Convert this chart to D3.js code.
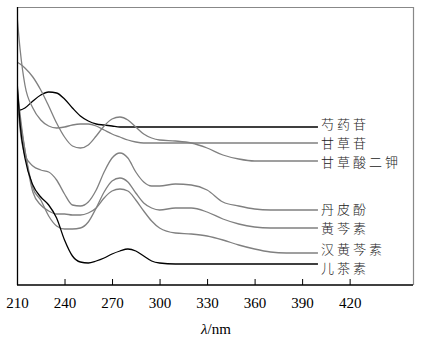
<!DOCTYPE html>
<html><head><meta charset="utf-8">
<script src="https://cdn.jsdelivr.net/npm/d3@7/dist/d3.min.js"></script>
<style>body{margin:0;background:#fff}svg{display:block}</style>
</head><body>
<svg id="c" width="435" height="341"></svg>
<script>
const wavelengths = [210,212,215,220,225,230,235,240,245,250,255,260,265,270,275,280,285,290,295,300,310,320,330,340,350,360,370,380,390,400];
const xTicks = [210,240,270,300,330,360,390,420];
const seriesNames = ["芍药苷","甘草苷","甘草酸二钾","丹皮酚","黄芩素","汉黄芩素","儿茶素"];
const seriesColors = ["#000","#808080","#808080","#808080","#808080","#808080","#000"];
const paeoniflorin = [1.78,1.75,1.77,1.84,1.90,1.93,1.92,1.86,1.77,1.69,1.64,1.61,1.60,1.59,1.58,1.58,1.58,1.58,1.58,1.58,1.58,1.58,1.58,1.58,1.58,1.58,1.58,1.58,1.58,1.58];
const liquiritin = [2.70,2.35,2.00,1.77,1.65,1.59,1.57,1.58,1.60,1.61,1.61,1.59,1.55,1.51,1.48,1.45,1.43,1.42,1.42,1.42,1.42,1.42,1.42,1.42,1.42,1.42,1.42,1.42,1.42,1.42];
const glycyrrhizinate = [2.23,2.21,2.17,2.08,1.95,1.79,1.62,1.48,1.39,1.37,1.40,1.49,1.59,1.66,1.68,1.65,1.58,1.51,1.47,1.45,1.44,1.42,1.37,1.30,1.26,1.24,1.24,1.24,1.24,1.24];
const paeonol = [1.90,1.55,1.30,1.19,1.15,1.13,1.05,0.91,0.80,0.79,0.83,0.95,1.13,1.27,1.32,1.27,1.13,1.03,0.99,0.99,1.01,1.00,0.95,0.83,0.79,0.76,0.75,0.75,0.75,0.75];
const baicalein = [1.95,1.65,1.35,0.97,0.85,0.69,0.59,0.56,0.56,0.57,0.63,0.77,0.93,1.04,1.07,1.03,0.92,0.82,0.77,0.75,0.77,0.77,0.73,0.66,0.61,0.58,0.57,0.57,0.57,0.57];
const wogonin = [2.00,1.70,1.35,0.93,0.80,0.74,0.71,0.71,0.70,0.70,0.72,0.77,0.87,0.94,0.96,0.94,0.85,0.74,0.64,0.57,0.52,0.51,0.49,0.45,0.40,0.36,0.33,0.32,0.32,0.32];
const catechin = [2.05,1.60,1.27,1.00,0.88,0.80,0.67,0.45,0.29,0.23,0.22,0.24,0.27,0.31,0.34,0.36,0.34,0.29,0.24,0.22,0.21,0.21,0.21,0.21,0.21,0.21,0.21,0.21,0.21,0.21];
const seriesValues = [paeoniflorin,liquiritin,glycyrrhizinate,paeonol,baicalein,wogonin,catechin];

const svg = d3.select("#c");
const L = 17, R = 413, T = 7, B = 285;
const x = d3.scaleLinear().domain([210,460]).range([L,R]);
const y = d3.scaleLinear().domain([0,2.78]).range([B,T]);

svg.append("defs").append("clipPath").attr("id","clip")
  .append("rect").attr("x",L).attr("y",T).attr("width",R-L).attr("height",B-T);

svg.append("line").attr("x1",L).attr("x2",R).attr("y1",T+0.5).attr("y2",T+0.5).attr("stroke","#888").attr("stroke-width",1.2);
svg.append("line").attr("x1",R+0.5).attr("x2",R+0.5).attr("y1",T).attr("y2",B).attr("stroke","#888").attr("stroke-width",1.2);

const line = d3.line().x((d,i)=>x(wavelengths[i])).y(d=>y(d)).curve(d3.curveMonotoneX);
const g = svg.append("g").attr("clip-path","url(#clip)");
seriesValues.forEach((vals,k)=>{
  g.append("path").attr("d",line(vals)).attr("fill","none")
   .attr("stroke",seriesColors[k]).attr("stroke-width",1.3);
});

// label placement: start at line end, spread apart to avoid overlaps
const gap = 19;
let labels = seriesValues.map((vals,k)=>({k, y: y(vals[vals.length-1]) + 1}));
labels.sort((a,b)=>a.y-b.y);
for (let it=0; it<60; it++) {
  for (let i=1;i<labels.length;i++){
    const d = labels[i].y - labels[i-1].y;
    if (d < gap) { const s=(gap-d)/2; labels[i].y += s; labels[i-1].y -= s; }
  }
}
labels.forEach(l=>{
  svg.append("text").attr("x",x(wavelengths[wavelengths.length-1])+3)
    .attr("y",l.y)
    .attr("dominant-baseline","middle")
    .attr("font-family","'Noto Sans CJK SC'").attr("font-size",13).attr("font-weight",300)
    .attr("letter-spacing",3)
    .attr("fill","#222").text(seriesNames[l.k]);
});

const xAxis = d3.axisBottom(x).tickValues(xTicks).tickSize(-6).tickPadding(12).tickFormat(d3.format("d"));
const ax = svg.append("g").attr("transform",`translate(0,${B})`).call(xAxis);
ax.select(".domain").attr("stroke","#000").attr("stroke-width",1.3).attr("d",`M${L},0H${R}`);
ax.selectAll(".tick line").attr("stroke","#000");
ax.selectAll(".tick text").attr("font-family","'Liberation Serif'").attr("font-size",15).attr("fill","#000");
svg.append("line").attr("x1",L+0.5).attr("x2",L+0.5).attr("y1",T).attr("y2",B).attr("stroke","#000").attr("stroke-width",1.3);

const t = svg.append("text").attr("x",(L+R)/2+1).attr("y",334).attr("text-anchor","middle")
  .attr("font-family","'Liberation Serif'").attr("font-size",15).attr("fill","#000");
t.append("tspan").attr("font-style","italic").text("λ");
t.append("tspan").text("/nm");
</script>
</body></html>
